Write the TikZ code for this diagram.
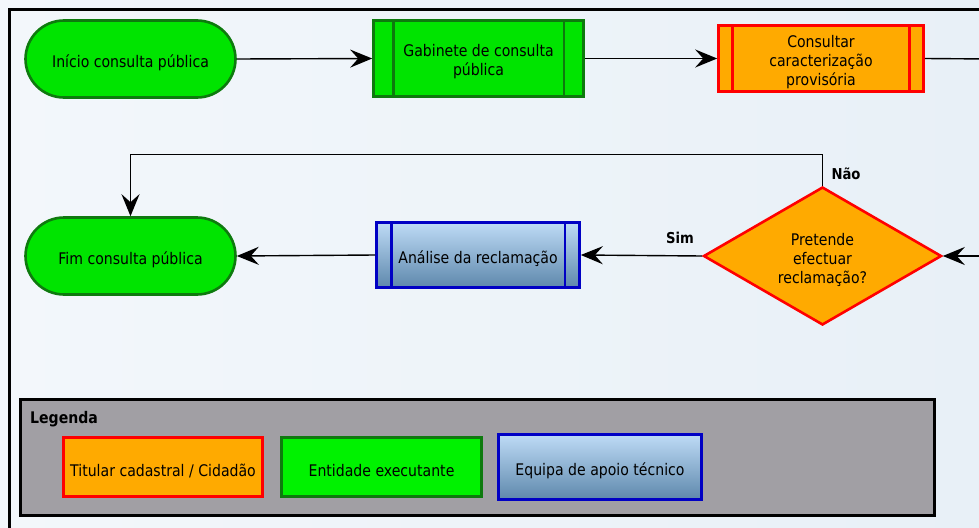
\documentclass[tikz,border=0pt]{standalone}
\usepackage{fontspec}
\setmainfont{DejaVu Sans}[FakeStretch=0.88]
\usetikzlibrary{shapes.geometric,arrows.meta}
\definecolor{bgA}{HTML}{F3F7FB}
\definecolor{bgB}{HTML}{E8F0F7}
\definecolor{grF}{HTML}{00E400}
\definecolor{grL}{HTML}{00F200}
\definecolor{grD}{HTML}{0E7A0E}
\definecolor{orF}{HTML}{FFAA00}
\definecolor{rdD}{HTML}{FF0000}
\definecolor{blD}{HTML}{0000C4}
\definecolor{blT}{HTML}{BEDBF6}
\definecolor{blB}{HTML}{5E88AC}
\definecolor{lgF}{HTML}{A19FA4}
\tikzset{
  txt/.style={font=\fontsize{16}{19}\selectfont, text=black, align=center, inner sep=0pt},
  shp/.style={inner sep=0pt, line width=2.6pt},
  term/.style={shp, draw=grD, fill=grF, minimum width=210pt, minimum height=77pt, rounded corners=38.5pt},
  grbox/.style={shp, draw=grD, fill=grF, rectangle, minimum width=210pt, minimum height=76pt},
  orbox/.style={shp, draw=rdD, fill=orF, rectangle, minimum width=205pt, minimum height=66pt},
  blbox/.style={shp, draw=blD, top color=blT, bottom color=blB, rectangle, minimum width=203pt, minimum height=65pt},
  dec/.style={shp, diamond, draw=rdD, fill=orF, minimum width=238pt, minimum height=138pt},
  conn/.style={draw=black, line width=1.4pt, ->},
  plain/.style={draw=black, line width=1.4pt},
  lab/.style={font=\fontsize{15}{18}\selectfont\bfseries, text=black, inner sep=0pt},
}
\begin{document}
\begin{tikzpicture}[x=1pt,y=-1pt, >={Stealth[length=22pt,width=18pt,inset=8pt,line width=2.2pt]}]
\useasboundingbox (0,0) rectangle (979,527);
\clip (0,0) rectangle (979,527);
\shade[left color=bgA, right color=bgB] (0,0) rectangle (979,527);
% outer frame
\draw[line width=3pt, black] (9.5,540) -- (9.5,9.5) -- (1000,9.5);

% shapes
\node[term] (start) at (130.5,59) {};
\node[grbox] (gab) at (478.5,58.5) {};
\node[orbox] (cons) at (821,58.5) {};
\node[dec] (decide) at (822.5,256) {};
\node[blbox] (ana) at (478,255) {};
\node[term] (fim) at (130.5,256) {};

% inner vertical lines of process boxes
\foreach \n/\o/\c in {gab/21/grD, cons/15.5/rdD, ana/16/blD}{
  \draw[line width=2.6pt, \c] ([xshift=\o pt]\n.north west) -- ([xshift=\o pt]\n.south west);
  \draw[line width=2.6pt, \c] ([xshift=-\o pt]\n.north east) -- ([xshift=-\o pt]\n.south east);
}

% texts
\node[txt] (start-t) at (130.5,63) {Início consulta pública};
\node[txt] (gab-t) at (478.5,62) {Gabinete de consulta\\pública};
\node[txt] (cons-t) at (821,62.5) {Consultar\\caracterização\\provisória};
\node[txt] (decide-t) at (822.5,260) {Pretende\\efectuar\\reclamação?};
\node[txt] (ana-t) at (478,259) {Análise da reclamação};
\node[txt] (fim-t) at (130.5,260) {Fim consulta pública};

\coordinate (rout) at (990,59);
\coordinate (rin) at (990,256);

% connectors
\draw[conn] (start.east) -- (gab.west);
\draw[conn] (gab.east) -- (cons.west);
\draw[plain] (cons.east) -- (rout);
\draw[conn] (rin) -- (decide.east);
\draw[conn] (decide.west) -- (ana.east);
\draw[conn] (ana.west) -- (fim.east);
\draw[conn] (decide.north) -- ++(0,-31) -| (fim.north);

\node[lab] (nao) at (846,174) {Não};
\node[lab] (sim) at (680,238) {Sim};

% legend
\node[draw=black, fill=lgF, line width=3pt, rectangle, minimum width=914pt, minimum height=116pt, inner sep=0pt] (leg) at (477.5,457.5) {};
\node[lab, anchor=west, font=\fontsize{16}{19}\selectfont\bfseries] (legt) at (30,419) {Legenda};
\node[shp, draw=rdD, fill=orF, minimum width=199pt, minimum height=59pt] (l1) at (163,467) {};
\node[shp, draw=grD, fill=grL, minimum width=200pt, minimum height=59pt] (l2) at (381.5,467) {};
\node[shp, draw=blD, top color=blT, bottom color=blB, minimum width=203pt, minimum height=65pt] (l3) at (600,467) {};
\node[txt] (l1-t) at (163,471) {Titular cadastral / Cidadão};
\node[txt] (l2-t) at (381.5,471) {Entidade executante};
\node[txt] (l3-t) at (600,471) {Equipa de apoio técnico};
\end{tikzpicture}
\end{document}
